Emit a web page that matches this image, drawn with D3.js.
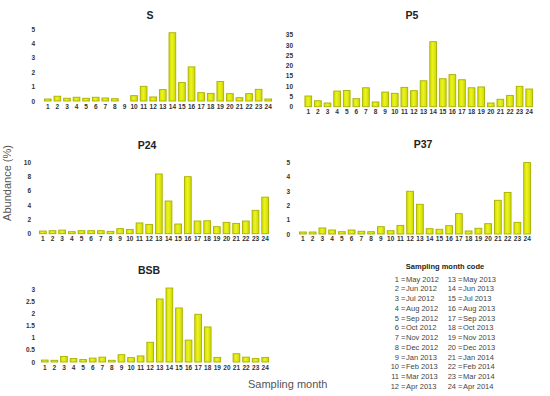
<!DOCTYPE html>
<html>
<head>
<meta charset="utf-8">
<script src="https://cdn.jsdelivr.net/npm/d3@7"></script>
<style>
  body { margin: 0; background: #fff; }
  svg { font-family: "Liberation Sans", Arial, sans-serif; }
</style>
</head>
<body>
<div id="chart"></div>
<script>
const months = d3.range(1, 25).map(String);

const sValues = [0.14, 0.33, 0.19, 0.26, 0.19, 0.26, 0.21, 0.16, 0, 0.37, 1.02, 0.28,
  0.79, 4.74, 1.28, 2.37, 0.58, 0.53, 1.35, 0.51, 0.23, 0.51, 0.81, 0.14];
const p5Values = [5.2, 2.9, 1.8, 7.6, 7.9, 3.9, 9.2, 2.3, 7.1, 6.5, 9.4, 7.8,
  12.6, 31.6, 13.6, 15.6, 13.1, 9.2, 9.6, 1.8, 3.6, 5.5, 9.9, 8.6];
const p24Values = [0.37, 0.42, 0.5, 0.28, 0.42, 0.42, 0.42, 0.33, 0.7, 0.6, 1.5, 1.3,
  8.33, 4.56, 1.35, 7.95, 1.77, 1.8, 0.98, 1.58, 1.44, 1.77, 3.26, 5.1];
const p37Values = [0.14, 0.14, 0.42, 0.28, 0.16, 0.28, 0.19, 0.16, 0.51, 0.23, 0.6, 2.98,
  2.07, 0.37, 0.33, 0.58, 1.42, 0.21, 0.4, 0.72, 2.35, 2.9, 0.81, 4.98];
const bsbValues = [0.08, 0.07, 0.23, 0.14, 0.1, 0.16, 0.2, 0.07, 0.3, 0.18, 0.25, 0.81,
  2.59, 3.04, 2.22, 0.9, 1.96, 1.44, 0.19, 0, 0.34, 0.2, 0.14, 0.19];

const sTicks = [0, 1, 2, 3, 4, 5];
const p5Ticks = [0, 5, 10, 15, 20, 25, 30, 35];
const p24Ticks = [0, 2, 4, 6, 8, 10];
const p37Ticks = [0, 1, 2, 3, 4, 5];
const bsbTicks = [0, 0.5, 1, 1.5, 2, 2.5, 3];

const monthNames = ["May 2012", "Jun 2012", "Jul 2012", "Aug 2012", "Sep 2012", "Oct 2012",
  "Nov 2012", "Dec 2012", "Jan 2013", "Feb 2013", "Mar 2013", "Apr 2013",
  "May 2013", "Jun 2013", "Jul 2013", "Aug 2013", "Sep 2013", "Oct 2013",
  "Nov 2013", "Dec 2013", "Jan 2014", "Feb 2014", "Mar 2014", "Apr 2014"];

// panel placement (pixels)
const panels = [
  { title: "S", values: sValues, ticks: sTicks, x0: 43, x1: 273, yBase: 101, yTop: 29, labelRight: 35, tickBase: 110.5, titleX: 150, titleY: 18.5 },
  { title: "P5", values: p5Values, ticks: p5Ticks, x0: 303.5, x1: 534, yBase: 106.7, yTop: 34.7, labelRight: 293, tickBase: 116, titleX: 412, titleY: 18.5 },
  { title: "P24", values: p24Values, ticks: p24Ticks, x0: 38, x1: 270, yBase: 233.7, yTop: 162, labelRight: 31, tickBase: 243.3, titleX: 147, titleY: 149 },
  { title: "P37", values: p37Values, ticks: p37Ticks, x0: 298, x1: 532, yBase: 234, yTop: 162.3, labelRight: 290, tickBase: 243.3, titleX: 423, titleY: 148 },
  { title: "BSB", values: bsbValues, ticks: bsbTicks, x0: 40, x1: 270, yBase: 362, yTop: 289, labelRight: 35, tickBase: 371.5, titleX: 149, titleY: 274 },
];

const svg = d3.select("#chart")
  .append("svg")
  .attr("width", 550)
  .attr("height", 396);

const grad = svg.append("defs").append("linearGradient")
  .attr("id", "barGrad")
  .attr("x1", "0").attr("x2", "1").attr("y1", "0").attr("y2", "0");
grad.append("stop").attr("offset", "0%").attr("stop-color", "#d0dc00");
grad.append("stop").attr("offset", "45%").attr("stop-color", "#ecf420");
grad.append("stop").attr("offset", "100%").attr("stop-color", "#ccd600");

panels.forEach((p) => {
  const x = d3.scaleBand().domain(months).range([p.x0, p.x1]).paddingInner(0.3).paddingOuter(0.15);
  const y = d3.scaleLinear()
    .domain([0, p.ticks[p.ticks.length - 1]])
    .range([p.yBase, p.yTop]);

  const g = svg.append("g");

  g.append("text")
    .attr("x", p.titleX)
    .attr("y", p.titleY)
    .attr("text-anchor", "middle")
    .attr("font-size", 10.5)
    .attr("font-weight", "bold")
    .attr("fill", "#222")
    .text(p.title);

  const yAxis = g.append("g")
    .attr("transform", `translate(${p.labelRight + 2},0)`)
    .call(d3.axisLeft(y).tickValues(p.ticks).tickSize(0).tickPadding(2).tickFormat(d3.format("")));
  yAxis.select(".domain").remove();
  yAxis.selectAll("text")
    .attr("font-size", 6.5)
    .attr("font-weight", "bold")
    .attr("fill", "#333")
    .attr("font-family", "Liberation Sans, Arial, sans-serif");

  const xAxis = g.append("g")
    .attr("transform", `translate(0,${p.tickBase - 6.5})`)
    .call(d3.axisBottom(x).tickSize(0).tickPadding(0));
  xAxis.select(".domain").remove();
  xAxis.selectAll("text")
    .attr("font-size", 6.5)
    .attr("font-weight", "bold")
    .attr("fill", "#333")
    .attr("font-family", "Liberation Sans, Arial, sans-serif");

  g.selectAll("rect")
    .data(p.values)
    .enter()
    .append("rect")
    .attr("x", (d, i) => x(months[i]))
    .attr("y", (d) => y(d))
    .attr("width", x.bandwidth())
    .attr("height", (d) => y(0) - y(d))
    .attr("fill", "url(#barGrad)")
    .attr("stroke", (d) => (d > 0 ? "#a8b000" : "none"))
    .attr("stroke-width", 0.9);
});

svg.append("text")
  .attr("transform", "translate(11,183) rotate(-90)")
  .attr("text-anchor", "middle")
  .attr("font-size", 11)
  .attr("fill", "#555")
  .text("Abundance (%)");

svg.append("text")
  .attr("x", 248)
  .attr("y", 388)
  .attr("font-size", 11)
  .attr("fill", "#555")
  .text("Sampling month");

// month code legend
svg.append("text")
  .attr("x", 445)
  .attr("y", 268.5)
  .attr("text-anchor", "middle")
  .attr("font-size", 7.5)
  .attr("font-weight", "bold")
  .attr("fill", "#222")
  .text("Sampling month code");

const legendRow = d3.scaleLinear().domain([0, 11]).range([281.7, 389]);
const legendCols = [{ numX: 399, eqX: 401, txtX: 406 }, { numX: 456, eqX: 458, txtX: 463 }];

monthNames.forEach((name, i) => {
  const col = legendCols[Math.floor(i / 12)];
  const yy = legendRow(i % 12);
  const row = svg.append("g").attr("font-size", 7.5).attr("fill", "#444");
  row.append("text").attr("x", col.numX).attr("y", yy).attr("text-anchor", "end").text(months[i]);
  row.append("text").attr("x", col.eqX).attr("y", yy).text("=");
  row.append("text").attr("x", col.txtX).attr("y", yy).text(name);
});
</script>
</body>
</html>
